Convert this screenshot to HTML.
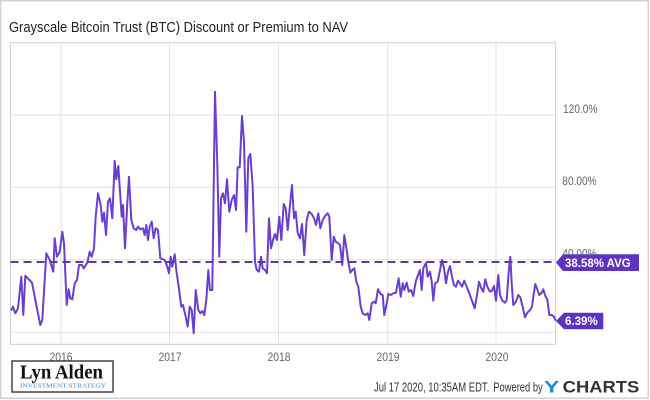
<!DOCTYPE html>
<html><head><meta charset="utf-8"><style>
html,body{margin:0;padding:0;background:#fff;}
svg{display:block;}
text{font-family:"Liberation Sans",sans-serif;}
</style></head><body>
<svg width="650" height="400" viewBox="0 0 650 400" xmlns="http://www.w3.org/2000/svg">
<rect x="0" y="0" width="650" height="400" fill="#fff"/>
<rect x="0.75" y="0.75" width="647.5" height="397.5" fill="none" stroke="#d2d2d2" stroke-width="1.5"/>
<text x="9" y="32" font-size="14.5" fill="#222" textLength="339" lengthAdjust="spacingAndGlyphs">Grayscale Bitcoin Trust (BTC) Discount or Premium to NAV</text>
<!-- grid -->
<g stroke="#e2e2e2" stroke-width="1">
<line x1="10.5" y1="115" x2="555.7" y2="115"/>
<line x1="10.5" y1="187.3" x2="555.7" y2="187.3"/>
<line x1="10.5" y1="259.8" x2="555.7" y2="259.8"/>
<line x1="10.5" y1="332.3" x2="555.7" y2="332.3"/>
<line x1="61" y1="43" x2="61" y2="344"/>
<line x1="169.5" y1="43" x2="169.5" y2="344"/>
<line x1="278.5" y1="43" x2="278.5" y2="344"/>
<line x1="387.7" y1="43" x2="387.7" y2="344"/>
<line x1="496" y1="43" x2="496" y2="344"/>
</g>
<rect x="10.5" y="42.7" width="545.2" height="301.6" fill="none" stroke="#cfcfcf" stroke-width="1"/>
<!-- y labels -->
<g font-size="12" fill="#666">
<text x="563" y="113" textLength="34.5" lengthAdjust="spacingAndGlyphs">120.0%</text>
<text x="562.3" y="185" textLength="34.4" lengthAdjust="spacingAndGlyphs">80.00%</text>
<text x="562.3" y="257.5" textLength="34.4" lengthAdjust="spacingAndGlyphs">40.00%</text>
</g>
<!-- x labels -->
<g font-size="12" fill="#666" text-anchor="middle">
<text x="61" y="361" textLength="23" lengthAdjust="spacingAndGlyphs">2016</text>
<text x="170" y="361" textLength="23" lengthAdjust="spacingAndGlyphs">2017</text>
<text x="279" y="361" textLength="23" lengthAdjust="spacingAndGlyphs">2018</text>
<text x="388" y="361" textLength="23" lengthAdjust="spacingAndGlyphs">2019</text>
<text x="497" y="361" textLength="23" lengthAdjust="spacingAndGlyphs">2020</text>
</g>
<!-- series -->
<polyline fill="none" stroke="#6a3fcf" stroke-width="2" stroke-linejoin="round" points="
10.7,310 11.3,310 13,306.7 15.3,313.3 18,308.3 21.3,276.7 23.3,315 25.3,275.7 28.7,279.3 32,282.7 36.3,305 40.3,325 42.3,320 46.3,253.3 49.7,260 53.3,271.7 54.7,238.3 57,256.7 59.7,251.7 62.3,231.7 64,243.3 66.7,305 68.7,289.3 70.3,298.3 72.3,299.3 74.7,283.3 77,280 79,265 82,265 83.7,268.3 87.3,262.7 89.7,251.7 91.7,256.7 94,248.3 95.7,216.7 98,193.3 100.7,205 102.3,221.7 104,212.7 106,235 108,201.7 110,198.3 112.3,218.3 114.7,160.7 116.3,179.3 118.3,166 120.3,196 121.7,216.7 123,205 125,248.3 127.3,203.3 129,176.7 131.3,220 133.7,228.3 136.3,230 138,226.7 140.3,229.3 143,228.3 144.7,235 146.3,225 148,240 149.7,226.7 151.7,221.7 153.7,238.3 155.7,228.3 158,230 160.3,258.3 163,259.3 164.7,260 167.3,266.7 169,273.3 170.7,256.7 172.3,266.7 174.7,254.3 176.3,270 178.7,286.7 181.3,306.7 183,305 185.7,316.7 187.7,326.7 189.7,306.7 191.7,310 193.7,333.3 195.7,290 198.3,310 200.3,313.3 202.3,311 204.3,315 206.3,300 208.3,270 210,290 212.3,290 215,91.7 217.3,163.3 219.3,256.7 221,198.3 223,193.3 225,203.3 227,179.3 229.3,211.7 231.7,200 234,195 236,210 237.7,167.3 239.7,167.3 242,116 244,141.7 246.3,231.7 248.3,158.3 250.3,154 252.7,186.7 255,261.7 256.7,270 259,271.7 261,256.7 262.7,268.3 265,270 267,273.3 269,218.3 271,248.3 273,240 275,234 277,240 279.3,216.7 281.3,240 283.7,204 285.7,208.3 287.7,230 290,205 292,185 294,218.3 295.7,211.7 297.7,233.3 300,238.3 302,224 304.3,255 306.7,220 309,211.7 311.7,214 314,218.3 316,225 318.3,213.3 320.3,228.3 322.7,220 325,216 327.7,213.3 329.3,216.7 331.7,260 333.7,236.7 335.7,241.7 338.3,243.3 340,245 342.3,265 344.3,235 346.7,250 348.3,261.7 350.3,272.7 352.3,270 354.3,268.3 356.3,281.7 358.3,286.7 360.7,306.7 362.7,313.3 365,315 367.7,313.3 369.3,320 371.7,303.3 374,301.7 375.7,303.3 378,289.3 380.7,294 382.7,295 384.3,315 386.7,303.3 388.3,294 390.7,295 393.3,293.3 396,292.7 398.7,278.3 400.7,296.7 402.7,283.3 404.3,290 406.7,282.7 408.7,291.7 411,290 413.3,296 415.7,281.7 418,275 420,270 421.7,290 423.3,268.3 426,262.7 427.7,276.7 430,271.7 431.7,281.7 433.3,300.7 435,283.3 437.7,281.7 440,270 442,260 444,268.3 446,283.3 448,271.7 450,266 452,276.7 454,285 456,286.7 458,280.7 460,283.3 462,286.7 464.3,280.7 466.7,286.7 469.3,293.3 471.7,300 474.7,308.3 476.7,296.7 479,281.7 481.3,288.3 483.3,291.7 485.3,279.3 487.3,286.7 490,291.7 492,290.7 494,286 496,300.7 498.3,275 500,295 502.3,300.7 505,302.7 506.7,300 508.7,271.7 510.3,256.7 511.7,283.3 513.3,305 516,301.7 518.3,295 520.3,297.3 522.7,306.7 525,317.3 527.3,312.7 530,310 532,306.7 533.3,296.7 535.3,284 537.3,289.3 539.3,295 541.3,293.3 543.3,289.3 545.3,296 547.3,299.3 549.3,315 551.7,315 554,316.7 555.7,320.7"/>
<!-- avg line -->
<line x1="10.5" y1="262" x2="556" y2="262" stroke="#5a3a9e" stroke-width="2" stroke-dasharray="8,5"/>
<!-- labels -->
<polygon points="556,262.5 563,254.3 639,254.3 639,271 563,271" fill="#5e33c0"/>
<text x="565" y="266.8" font-size="11.5" font-weight="bold" fill="#fff" textLength="65.7" lengthAdjust="spacingAndGlyphs">38.58% AVG</text>
<polygon points="556,321 564,312.7 603.3,312.7 603.3,329.3 564,329.3" fill="#5e33c0"/>
<text x="565" y="324.8" font-size="11.5" font-weight="bold" fill="#fff" textLength="32.7" lengthAdjust="spacingAndGlyphs">6.39%</text>
<!-- logo -->
<rect x="12" y="361" width="101" height="31" fill="#fff" stroke="#444" stroke-width="1.5"/>
<text x="20" y="378.5" font-family="Liberation Serif, serif" font-weight="bold" font-size="20" fill="#111" textLength="83" lengthAdjust="spacingAndGlyphs" style="font-family:'Liberation Serif',serif">Lyn Alden</text>
<text x="20" y="387.5" font-size="6.5" fill="#3a8cc7" textLength="86" lengthAdjust="spacingAndGlyphs" style="font-family:'Liberation Serif',serif">INVESTMENT STRATEGY</text>
<!-- footer -->
<text x="374" y="391.7" font-size="12.5" fill="#333" textLength="115.3" lengthAdjust="spacingAndGlyphs">Jul 17 2020, 10:35AM EDT.</text>
<text x="493.3" y="391.7" font-size="12.5" fill="#333" textLength="49.4" lengthAdjust="spacingAndGlyphs">Powered by</text>
<text x="544" y="392.3" font-size="17" font-weight="bold" fill="#1b8ad6" textLength="15.3" lengthAdjust="spacingAndGlyphs">Y</text>
<text x="562.7" y="392.3" font-size="17" font-weight="bold" fill="#333" textLength="76.6" lengthAdjust="spacingAndGlyphs">CHARTS</text>
</svg>
</body></html>
